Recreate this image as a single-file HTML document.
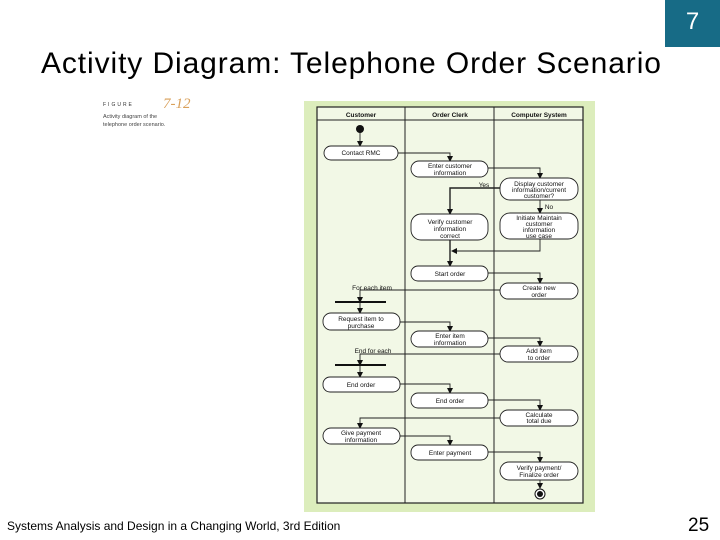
<!DOCTYPE html>
<html><head><meta charset="utf-8"><style>
body{margin:0;width:720px;height:540px;background:#fff;position:relative;overflow:hidden;font-family:"Liberation Sans",sans-serif}
.t{position:absolute;white-space:nowrap}
</style></head><body>
<div style="position:absolute;left:665px;top:0;width:55px;height:47px;background:#176b86;color:#fff;font-size:24px;text-align:center;line-height:44px">7</div>
<div class="t" style="left:41px;top:47px;font-size:30px;letter-spacing:0.9px;color:#000">Activity Diagram: Telephone Order Scenario</div>
<div class="t" style="left:7px;top:519px;font-size:12px">Systems Analysis and Design in a Changing World, 3rd Edition</div>
<div class="t" style="left:688px;top:515px;font-size:19px">25</div>
<svg width="720" height="540" style="position:absolute;left:0;top:0" font-family="Liberation Sans,sans-serif">
<text x="103" y="106" font-size="5" letter-spacing="2" fill="#333">FIGURE</text>
<text x="163" y="108" font-size="15" font-style="italic" fill="#d9a05a" font-family="Liberation Serif,serif">7-12</text>
<text x="103" y="118" font-size="5.5" fill="#444">Activity diagram of the</text>
<text x="103" y="126" font-size="5.5" fill="#444">telephone order scenario.</text>
<rect x="304" y="101" width="291" height="411" fill="#dcedbc"/>
<rect x="317" y="107" width="266" height="396" fill="#f2f8e6" stroke="#222" stroke-width="1.2"/>
<line x1="317" y1="120" x2="583" y2="120" stroke="#222"/>
<line x1="405" y1="107" x2="405" y2="503" stroke="#222"/>
<line x1="494" y1="107" x2="494" y2="503" stroke="#222"/>
<g font-size="6.5" font-weight="bold" text-anchor="middle" fill="#111">
<text x="361" y="117">Customer</text><text x="450" y="117">Order Clerk</text><text x="539" y="117">Computer System</text></g>
<defs><marker id="a" markerUnits="userSpaceOnUse" markerWidth="6" markerHeight="6" refX="5" refY="3" orient="auto"><path d="M0,0L6,3L0,6z" fill="#111"/></marker></defs>
<g fill="none" stroke="#222" stroke-width="0.9" marker-end="url(#a)">
<path d="M360,132V146"/>
<path d="M397,153H450V161"/>
<path d="M488,168H540V178"/>
<path d="M500,188H450V214" stroke-width="1.4"/>
<path d="M540,200V213"/>
<path d="M540,239V251H452"/>
<path d="M450,240V266" stroke-width="1.4"/>
<path d="M488,273H540V283"/>
<path d="M500,290H360V302"/>
<path d="M360,302V313"/>
<path d="M400,322H450V331"/>
<path d="M488,338H540V346"/>
<path d="M500,354H360V365"/>
<path d="M360,365V377"/>
<path d="M400,384H450V393"/>
<path d="M488,400H540V410"/>
<path d="M500,418H360V428"/>
<path d="M400,436H450V445"/>
<path d="M488,452H540V462"/>
<path d="M540,480V488"/>
</g>
<circle cx="360" cy="129" r="4" fill="#111"/>
<circle cx="540" cy="494" r="5" fill="#fff" stroke="#111"/><circle cx="540" cy="494" r="3" fill="#111"/>
<line x1="335" y1="302" x2="386" y2="302" stroke="#111" stroke-width="2"/>
<line x1="335" y1="365" x2="386" y2="365" stroke="#111" stroke-width="2"/>
<g fill="#fff" stroke="#222" stroke-width="0.9">
<rect x="324" y="146" width="74" height="14" rx="7"/>
<rect x="411" y="161" width="77" height="16" rx="8"/>
<rect x="500" y="178" width="78" height="22" rx="10"/>
<rect x="500" y="213" width="78" height="26" rx="10"/>
<rect x="411" y="214" width="77" height="26" rx="10"/>
<rect x="411" y="266" width="77" height="15" rx="7"/>
<rect x="500" y="283" width="78" height="16" rx="8"/>
<rect x="323" y="313" width="77" height="17" rx="8"/>
<rect x="411" y="331" width="77" height="16" rx="8"/>
<rect x="500" y="346" width="78" height="16" rx="8"/>
<rect x="323" y="377" width="77" height="15" rx="7"/>
<rect x="411" y="393" width="77" height="15" rx="7"/>
<rect x="500" y="410" width="78" height="16" rx="8"/>
<rect x="323" y="428" width="77" height="16" rx="8"/>
<rect x="411" y="445" width="77" height="15" rx="7"/>
<rect x="500" y="462" width="78" height="18" rx="9"/>
</g>
<g font-size="6.5" text-anchor="middle" fill="#111">
<text x="361" y="155">Contact RMC</text>
<text x="450" y="168">Enter customer</text><text x="450" y="175">information</text>
<text x="539" y="186">Display customer</text><text x="539" y="192">information/current</text><text x="539" y="198">customer?</text>
<text x="539" y="220">Initiate Maintain</text><text x="539" y="226">customer</text><text x="539" y="232">information</text><text x="539" y="238">use case</text>
<text x="450" y="224">Verify customer</text><text x="450" y="231">information</text><text x="450" y="238">correct</text>
<text x="450" y="276">Start order</text>
<text x="539" y="290">Create new</text><text x="539" y="297">order</text>
<text x="361" y="321">Request item to</text><text x="361" y="328">purchase</text>
<text x="450" y="338">Enter item</text><text x="450" y="345">information</text>
<text x="539" y="353">Add item</text><text x="539" y="360">to order</text>
<text x="361" y="387">End order</text>
<text x="450" y="403">End order</text>
<text x="539" y="417">Calculate</text><text x="539" y="423">total due</text>
<text x="361" y="435">Give payment</text><text x="361" y="442">information</text>
<text x="450" y="455">Enter payment</text>
<text x="539" y="470">Verify payment/</text><text x="539" y="477">Finalize order</text>
<text x="372" y="290">For each item</text>
<text x="373" y="353">End for each</text>
<text x="484" y="187">Yes</text>
<text x="549" y="209">No</text>
</g>
</svg>
</body></html>
